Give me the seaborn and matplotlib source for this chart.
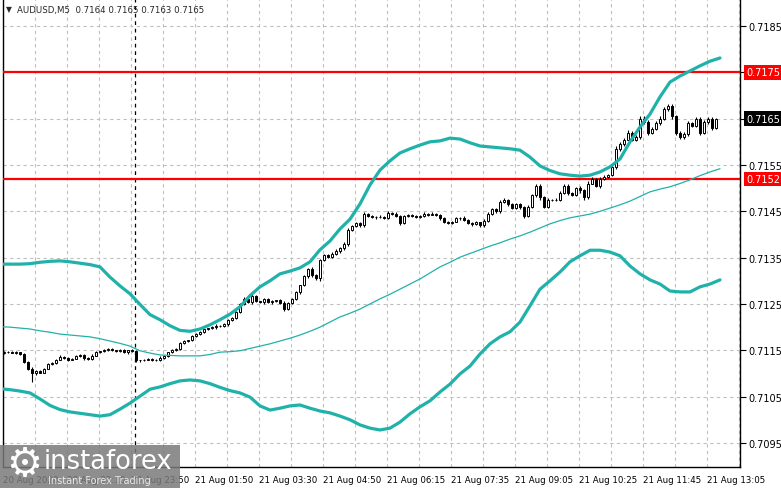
# Gráfico de velas AUDUSD M5 con bandas y niveles
import numpy as np
import pandas as pd
import seaborn as sns
import matplotlib.pyplot as plt
from matplotlib.patches import Rectangle
from matplotlib.transforms import blended_transform_factory

# Precios en pips por encima de 0.7100
BASE = 0.7100
PIP = 0.0001

apertura_inicial = 14.5
cierres = [
    14.6, 14.7, 14.5, 14.6, 14.2, 12.5, 11.0, 10.0, 10.5, 10.2,
    11.0, 12.0, 12.3, 13.0, 13.6, 13.4, 13.0, 13.2, 13.8, 14.0,
    13.3, 13.2, 13.8, 14.6, 14.8, 15.0, 15.2, 15.0, 14.9, 15.1,
    14.6, 15.0, 14.8, 12.8, 12.9, 13.0, 13.2, 13.0, 12.8, 13.4,
    13.8, 14.6, 15.0, 15.3, 16.6, 17.0, 17.2, 18.0, 18.5, 19.0,
    19.5, 19.8, 20.0, 20.3, 20.2, 20.6, 21.5, 22.0, 23.2, 25.0,
    26.0, 25.4, 26.8, 25.6, 25.5, 26.0, 25.4, 25.6, 25.8, 25.3,
    24.0, 25.2, 26.0, 27.5, 29.0, 31.0, 32.5, 31.2, 30.5, 34.5,
    35.5, 35.2, 35.8, 36.5, 37.0, 38.0, 41.0, 41.8, 42.5, 42.0,
    44.5, 44.0, 43.8, 43.7, 43.8, 43.6, 44.7, 44.5, 44.0, 42.5,
    44.0, 44.2, 44.0, 43.8, 44.0, 44.5, 44.3, 44.5, 44.2, 43.5,
    42.8, 42.5, 42.8, 43.5, 43.6, 43.2, 42.5, 42.3, 42.6, 42.0,
    43.0, 44.5, 45.5, 45.0, 47.0, 47.5, 46.5, 45.8, 46.5, 46.0,
    44.0, 46.0, 48.5, 50.5, 48.0, 46.0, 47.5, 47.5, 47.5, 49.0,
    50.5, 49.0, 48.5, 50.0, 49.5, 48.0, 51.0, 52.0, 50.5, 52.0,
    52.5, 52.8, 54.5, 58.5, 59.5, 60.5, 62.0, 60.5, 61.0, 65.0,
    64.3, 62.0, 62.8, 64.0, 65.0, 67.0, 67.7, 65.5, 62.0, 61.0,
    61.7, 64.0, 63.5, 65.0, 62.0, 64.3, 65.0, 63.0, 65.0,
]
# Mechas en décimas de pip
mecha_sup = [
    2, 1, 2, 3, 1, 2, 1, 3, 2, 2, 1, 2, 2, 1, 3, 2, 1, 2, 2, 3,
    1, 2, 3, 2, 1, 2, 3, 2, 1, 2, 2, 1, 3, 2, 1, 2, 1, 2, 2, 3,
    2, 1, 2, 3, 2, 2, 1, 2, 3, 2, 2, 1, 2, 3, 1, 2, 3, 2, 2, 3,
    4, 2, 3, 2, 1, 2, 3, 2, 1, 2, 3, 2, 2, 3, 2, 3, 2, 4, 2, 3,
    3, 2, 4, 3, 2, 3, 5, 3, 2, 3, 4, 2, 3, 2, 3, 2, 3, 2, 3, 2,
    3, 2, 2, 3, 2, 3, 2, 3, 2, 2, 3, 2, 2, 3, 2, 3, 2, 2, 3, 2,
    3, 4, 3, 2, 4, 3, 2, 3, 2, 3, 2, 4, 3, 5, 3, 2, 3, 2, 3, 4,
    4, 3, 2, 3, 4, 3, 5, 3, 2, 3, 4, 3, 4, 6, 4, 3, 5, 3, 4, 6,
    5, 4, 3, 4, 5, 6, 5, 4, 3, 3, 4, 5, 3, 4, 3, 4, 3, 4, 2,
]
mecha_inf = [
    2, 2, 1, 2, 3, 2, 3, 18, 3, 2, 2, 1, 2, 3, 2, 2, 3, 2, 1, 2,
    3, 2, 2, 1, 2, 2, 1, 2, 3, 2, 2, 3, 2, 4, 3, 2, 2, 3, 2, 2,
    2, 3, 2, 2, 3, 2, 2, 3, 2, 2, 3, 2, 2, 3, 2, 2, 3, 2, 3, 2,
    3, 2, 3, 2, 3, 4, 2, 3, 2, 3, 5, 2, 3, 2, 3, 2, 3, 4, 3, 5,
    3, 2, 3, 2, 4, 3, 4, 3, 2, 3, 4, 3, 2, 3, 2, 3, 3, 2, 3, 4,
    3, 2, 3, 2, 3, 2, 3, 2, 3, 4, 3, 2, 3, 2, 3, 2, 3, 4, 3, 3,
    3, 2, 3, 4, 3, 2, 4, 3, 2, 4, 5, 3, 2, 4, 5, 3, 2, 3, 2, 3,
    3, 4, 3, 2, 5, 6, 3, 2, 3, 5, 3, 4, 2, 3, 4, 3, 2, 4, 3, 3,
    4, 5, 4, 3, 4, 3, 4, 5, 6, 4, 3, 4, 3, 4, 5, 3, 4, 5, 3,
]

# Indicadores leídos cada 2.5 velas (pips sobre 0.7100), desde la vela -1
banda_superior = [
    33.6, 33.6, 33.6, 33.7, 34.0, 34.2, 34.3, 34.1, 33.8, 33.5,
    33.0, 30.8, 28.9, 27.2, 24.9, 22.7, 21.6, 20.3, 19.3, 19.1,
    19.6, 20.5, 21.6, 22.8, 24.4, 26.8, 28.7, 30.0, 31.5, 32.1,
    32.8, 34.1, 36.7, 38.6, 41.2, 43.3, 46.6, 50.7, 53.9, 55.9,
    57.6, 58.5, 59.3, 60.0, 60.2, 60.8, 60.6, 59.8, 59.1, 58.9,
    58.7, 58.5, 58.2, 56.7, 54.8, 53.8, 53.1, 52.8, 52.6, 52.8,
    53.5, 54.6, 56.3, 60.0, 63.2, 66.0, 69.7, 72.9, 74.2, 75.3,
    76.4, 77.4, 78.1,
]
banda_inferior = [
    6.7, 6.5, 6.2, 5.8, 4.5, 3.1, 2.2, 1.7, 1.4, 1.1,
    0.8, 1.1, 2.3, 3.6, 5.1, 6.6, 7.1, 7.8, 8.4, 8.6,
    8.4, 7.8, 7.0, 6.3, 5.8, 4.9, 3.0, 2.1, 2.5, 3.0,
    3.2, 2.5, 1.9, 1.5, 0.8, 0.0, -1.1, -1.8, -2.2, -1.8,
    -0.5, 1.3, 2.8, 4.1, 6.0, 7.7, 9.9, 11.6, 14.2, 16.4,
    17.9, 19.0, 21.1, 24.6, 28.2, 30.0, 31.9, 34.1, 35.4, 36.6,
    36.6, 36.2, 35.4, 33.2, 31.5, 30.2, 29.3, 27.8, 27.6, 27.6,
    28.7, 29.3, 30.2,
]
media_movil = [
    20.1, 20.0, 19.8, 19.6, 19.2, 18.9, 18.5, 18.3, 18.1, 17.9,
    17.5, 17.0, 16.5, 15.9, 14.9, 14.4, 14.0, 13.9, 13.8, 13.8,
    13.8, 14.1, 14.6, 14.7, 14.9, 15.4, 15.9, 16.4, 17.0, 17.6,
    18.3, 19.1, 20.0, 21.1, 22.2, 23.0, 23.9, 25.0, 26.1, 27.1,
    28.2, 29.3, 30.4, 31.7, 33.0, 34.0, 35.1, 35.9, 36.7, 37.5,
    38.2, 39.0, 39.7, 40.5, 41.4, 42.3, 43.0, 43.6, 44.0, 44.4,
    45.0, 45.7, 46.4, 47.2, 48.2, 49.2, 49.8, 50.3, 51.0, 51.8,
    52.7, 53.5, 54.2,
]
velas_indicador = np.arange(len(banda_superior)) * 2.5 - 1

etiquetas_tiempo = [
    "20 Aug 2020", "20 Aug 22:10", "20 Aug 23:50", "21 Aug 01:50",
    "21 Aug 03:30", "21 Aug 04:50", "21 Aug 06:15", "21 Aug 07:35",
    "21 Aug 09:05", "21 Aug 10:25", "21 Aug 11:45", "21 Aug 13:05",
]
velas_etiqueta = list(range(0, 177, 16))
niveles_rojos = [0.7175, 0.7152]
precio_actual = 0.7165
niveles_y = [0.7095, 0.7105, 0.7115, 0.7125, 0.7135, 0.7145, 0.7155, 0.7165, 0.7175, 0.7185]
corte_dia = 32.75
titulo = "AUDUSD,M5  0.7164 0.7165 0.7163 0.7165"

ANCHO, ALTO = 781, 489
VERDE = "#20b2aa"
GRIS_GRID = "#c0c0c0"


def preparar_velas():
    # Construimos OHLC a partir de los cierres y las mechas
    df = pd.DataFrame({"close": cierres})
    df["open"] = [apertura_inicial] + cierres[:-1]
    cuerpo_max = df[["open", "close"]].max(axis=1)
    cuerpo_min = df[["open", "close"]].min(axis=1)
    df["high"] = cuerpo_max + np.array(mecha_sup) / 10
    df["low"] = cuerpo_min - np.array(mecha_inf) / 10
    for col in ["open", "close", "high", "low"]:
        df[col] = BASE + df[col] * PIP
    df["vela"] = np.arange(len(df))
    return df


def dibujar_velas(ax, df):
    # Mechas
    ax.vlines(df["vela"], df["low"], df["high"], color="black", linewidth=0.8, zorder=4)
    # Cuerpos: alcistas huecos, bajistas negros
    alcista = df["close"] >= df["open"]
    altura = (df["close"] - df["open"]).abs().clip(lower=0.000003)
    base = df[["open", "close"]].min(axis=1)
    colores = np.where(alcista, "white", "black")
    ax.bar(df["vela"], altura, bottom=base, width=0.72, color=colores,
           edgecolor="black", linewidth=0.7, zorder=5)


def dibujar_indicadores(ax):
    ind = pd.DataFrame({
        "vela": velas_indicador,
        "sup": BASE + np.array(banda_superior) * PIP,
        "inf": BASE + np.array(banda_inferior) * PIP,
        "media": BASE + np.array(media_movil) * PIP,
    })
    sns.lineplot(data=ind, x="vela", y="sup", ax=ax, color=VERDE, linewidth=2.3, zorder=6)
    sns.lineplot(data=ind, x="vela", y="inf", ax=ax, color=VERDE, linewidth=2.3, zorder=6)
    sns.lineplot(data=ind, x="vela", y="media", ax=ax, color=VERDE, linewidth=0.9, zorder=6)


def main():
    sns.set_style("white")
    plt.rcParams["font.family"] = ["DejaVu Sans"]

    fig = plt.figure(figsize=(ANCHO / 100, ALTO / 100), dpi=100)
    ax = fig.add_axes([3 / ANCHO, 21 / ALTO, 737 / ANCHO, 468 / ALTO])

    # Rejilla punteada
    for y in niveles_y:
        ax.axhline(y, color=GRIS_GRID, linestyle=(0, (3, 3)), linewidth=0.8, zorder=1)
    for k in range(0, 185, 8):
        ax.axvline(k - 0.25, color=GRIS_GRID, linestyle=(0, (3, 3)), linewidth=0.8, zorder=1)

    # Separador de día
    ax.axvline(corte_dia, color="black", linestyle=(0, (3, 3)), linewidth=0.9, zorder=2)

    # Niveles rojos
    for nivel in niveles_rojos:
        ax.axhline(nivel, color="#ff0000", linewidth=1.6, zorder=3)

    df = preparar_velas()
    dibujar_velas(ax, df)
    dibujar_indicadores(ax)

    ax.set_xlim(-0.25, 184)
    ax.set_ylim(0.708981, 0.719083)
    ax.set_xlabel("")
    ax.set_ylabel("")

    # Eje de precios a la derecha
    ax.yaxis.tick_right()
    ax.set_yticks(niveles_y)
    etiquetas_y = ["" if abs(v - 0.7175) < 1e-6 or abs(v - precio_actual) < 1e-6 else f"{v:.4f}"
                   for v in niveles_y]
    ax.set_yticklabels(etiquetas_y, fontsize=7)
    ax.tick_params(axis="y", direction="out", length=4, width=0.8, pad=2, colors="black")

    ax.set_xticks([v - 0.25 for v in velas_etiqueta])
    ax.set_xticklabels(etiquetas_tiempo, fontsize=6.2, ha="left")
    ax.tick_params(axis="x", direction="out", length=4, width=0.8, pad=2, colors="black")

    for lado in ["left", "right", "bottom"]:
        ax.spines[lado].set_color("black")
        ax.spines[lado].set_linewidth(1.0)
    ax.spines["top"].set_visible(False)

    # Etiquetas con fondo para los niveles
    trans = blended_transform_factory(ax.transAxes, ax.transData)
    for nivel in niveles_rojos:
        ax.text(1.008, nivel, f"{nivel:.4f}", transform=trans, fontsize=7, color="white",
                va="center", ha="left", clip_on=False,
                bbox=dict(facecolor="#ff0000", edgecolor="none", pad=1.6))
    ax.text(1.008, precio_actual, f"{precio_actual:.4f}", transform=trans, fontsize=7, color="white",
            va="center", ha="left", clip_on=False,
            bbox=dict(facecolor="black", edgecolor="none", pad=1.6))

    # Título
    fig.text(6 / ANCHO, 1 - 10 / ALTO, "▼", fontsize=5.5, va="center", ha="left")
    fig.text(17 / ANCHO, 1 - 10 / ALTO, titulo, fontsize=6.2, va="center", ha="left")

    # Marca de agua
    fig.patches.append(Rectangle((0, 0), 180 / ANCHO, 43 / ALTO, transform=fig.transFigure,
                                 facecolor="#7a7a7a", edgecolor="none", alpha=0.85, zorder=10))
    fig.text(24 / ANCHO, 1 - 465 / ALTO, "⚙", fontsize=29, color="white", va="center",
             ha="center", zorder=11)
    fig.text(44 / ANCHO, 1 - 462 / ALTO, "instaforex", fontsize=18.5, color="white",
             va="center", ha="left", zorder=11)
    fig.text(48 / ANCHO, 1 - 481 / ALTO, "Instant Forex Trading", fontsize=7, color="#e8e8e8",
             va="center", ha="left", zorder=11)

    fig.savefig("out.png", dpi=100)
    plt.close(fig)


if __name__ == "__main__":
    main()
